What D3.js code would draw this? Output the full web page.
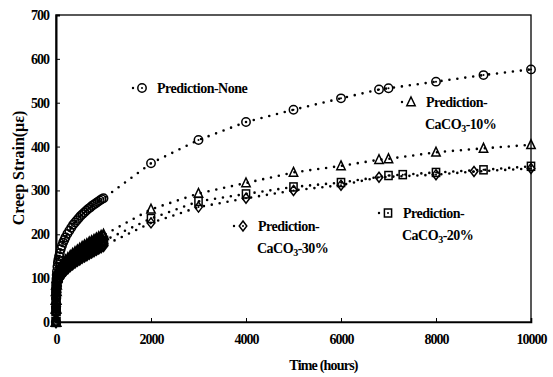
<!DOCTYPE html>
<html>
<head>
<meta charset="utf-8">
<script src="https://cdn.jsdelivr.net/npm/d3@7"></script>
<style>
  body { margin: 0; background: #fff; }
  text { font-family: "Liberation Serif", "Times New Roman", serif; font-weight: bold; fill: #000; }
</style>
</head>
<body>
<svg id="chart" width="553" height="377"></svg>
<script>
// ---- data ----
const xTicks = [0, 2000, 4000, 6000, 8000, 10000]
const yTicks = [0, 100, 200, 300, 400, 500, 600, 700]

// Prediction-None (dense early readings, then the long term ones)
const noneHours = [0, 0.5, 1, 2, 3, 5, 7, 10, 15, 20, 30, 40, 50, 65, 80, 100, 125, 150, 175, 200,
  240, 280, 320, 360, 400, 440, 480, 520, 560, 600, 640, 680, 720, 760, 800, 840, 880, 920, 960, 1000,
  2000, 3000, 4000, 5000, 6000, 6800, 7000, 8000, 9000, 10000]
const noneStrain = [0, 30, 55, 68, 75, 83, 90, 98, 107, 115, 126, 135, 142, 150, 157, 166, 174, 181, 187, 193,
  201, 208, 215, 222, 227, 232, 237, 242, 246, 250, 254, 258, 261, 265, 268, 271, 274, 277, 280, 282,
  362, 415, 456, 484, 510, 530, 533, 548, 563, 576]

// Prediction-CaCO3-10%
const p10Hours = [0, 1, 2, 5, 10, 20, 40, 70, 100, 150, 200, 250, 300, 350, 400, 450, 500, 550, 600, 650,
  700, 750, 800, 850, 900, 950, 1000, 2000, 3000, 4000, 5000, 6000, 6800, 7000, 8000, 9000, 10000]
const p10Strain = [0, 30, 50, 70, 85, 100, 112, 120, 126, 133, 139, 144, 149, 154, 158, 162, 166, 170, 173, 176,
  180, 183, 186, 189, 192, 195, 198, 257, 293, 317, 341, 356, 370, 372, 387, 396, 404]

// Prediction-CaCO3-20%
const p20Hours = [0, 1, 2, 5, 10, 20, 40, 70, 100, 150, 200, 250, 300, 350, 400, 450, 500, 550, 600, 650,
  700, 750, 800, 850, 900, 950, 1000, 2000, 3000, 4000, 5000, 6000, 7000, 7300, 8000, 9000, 10000]
const p20Strain = [0, 25, 42, 62, 76, 90, 101, 109, 115, 122, 128, 133, 138, 142, 146, 150, 154, 157, 161, 164,
  167, 170, 173, 176, 179, 182, 185, 236, 275, 292, 308, 318, 334, 336, 341, 347, 355]

// Prediction-CaCO3-30%
const p30Hours = [0, 1, 2, 5, 10, 20, 40, 70, 100, 150, 200, 250, 300, 350, 400, 450, 500, 550, 600, 650,
  700, 750, 800, 850, 900, 950, 1000, 2000, 3000, 4000, 5000, 6000, 6800, 8000, 8800, 10000]
const p30Strain = [0, 20, 35, 55, 68, 82, 93, 100, 105, 112, 118, 123, 128, 132, 136, 140, 143, 147, 150, 153,
  156, 159, 162, 165, 168, 171, 174, 226, 262, 282, 300, 312, 330, 336, 343, 350]

const series = [
  { name: 'None', marker: 'circle', hours: noneHours, strain: noneStrain },
  { name: '10', marker: 'triangle', hours: p10Hours, strain: p10Strain },
  { name: '20', marker: 'square', hours: p20Hours, strain: p20Strain },
  { name: '30', marker: 'diamond', hours: p30Hours, strain: p30Strain }
]

// ---- layout ----
const svg = d3.select('#chart')
const margin = { left: 56, right: 22, top: 15, bottom: 55 }
const width = 553 - margin.left - margin.right
const height = 377 - margin.top - margin.bottom

const xScale = d3.scaleLinear().domain([0, 10000]).range([0, width])
const yScale = d3.scaleLinear().domain([0, 700]).range([height, 0])

svg.append('rect').attr('width', 553).attr('height', 377).attr('fill', '#fff')

const g = svg.append('g').attr('transform', 'translate(' + margin.left + ',' + margin.top + ')')

// frame
g.append('rect')
  .attr('width', width).attr('height', height)
  .attr('fill', 'none').attr('stroke', '#000').attr('stroke-width', 1.3)

const xAxis = g.append('g')
  .attr('transform', 'translate(0,' + height + ')')
  .call(d3.axisBottom(xScale).tickValues(xTicks).tickSize(-4).tickPadding(12).tickFormat(d3.format('d')))
const yAxis = g.append('g')
  .call(d3.axisLeft(yScale).tickValues(yTicks).tickSize(-4).tickPadding(7))

xAxis.select('.domain').attr('stroke-width', 1.6)
yAxis.select('.domain').attr('stroke-width', 2)
xAxis.selectAll('text').style('font-size', '14px').style('letter-spacing', '-1px')
  .style('font-family', '"Liberation Serif", serif').style('font-weight', 'bold')
yAxis.selectAll('text').style('font-size', '14px').style('letter-spacing', '-1px')
  .style('font-family', '"Liberation Serif", serif').style('font-weight', 'bold')

// axis titles
svg.append('text')
  .attr('x', margin.left + width / 2 + 30).attr('y', 370)
  .attr('text-anchor', 'middle')
  .style('font-size', '14px').style('letter-spacing', '-0.8px')
  .text('Time (hours)')

svg.append('text')
  .attr('transform', 'translate(24,' + (margin.top + 153) + ') rotate(-90)')
  .attr('text-anchor', 'middle')
  .style('font-size', '16px')
  .text('Creep Strain(με)')

// ---- marks ----
function drawMarker (sel, type, x, y, sw) {
  if (type === 'circle') {
    sel.append('circle').attr('cx', x).attr('cy', y).attr('r', 4.2)
      .attr('fill', 'none').attr('stroke', '#000').attr('stroke-width', sw)
  } else if (type === 'triangle') {
    sel.append('path')
      .attr('d', 'M' + x + ',' + (y - 5) + 'L' + (x + 4.2) + ',' + (y + 3.8) + 'L' + (x - 4.2) + ',' + (y + 3.8) + 'Z')
      .attr('fill', 'none').attr('stroke', '#000').attr('stroke-width', sw)
  } else if (type === 'square') {
    sel.append('rect').attr('x', x - 3.6).attr('y', y - 4).attr('width', 7.2).attr('height', 8)
      .attr('fill', 'none').attr('stroke', '#000').attr('stroke-width', sw)
  } else {
    sel.append('path')
      .attr('d', 'M' + x + ',' + (y - 5) + 'L' + (x + 3.8) + ',' + y + 'L' + x + ',' + (y + 5) + 'L' + (x - 3.8) + ',' + y + 'Z')
      .attr('fill', 'none').attr('stroke', '#000').attr('stroke-width', sw)
  }
  if (type !== 'triangle') {
    sel.append('circle').attr('cx', x).attr('cy', y).attr('r', 1).attr('fill', '#000')
  }
}

const line = d3.line()
  .x(function (d) { return xScale(d[0]) })
  .y(function (d) { return yScale(d[1]) })

series.forEach(function (s) {
  const pts = s.hours.map(function (h, i) { return [h, s.strain[i]] })
  g.append('path')
    .attr('d', line(pts))
    .attr('fill', 'none').attr('stroke', '#000')
    .attr('stroke-width', 2.6).attr('stroke-linecap', 'round')
    .attr('stroke-dasharray', '0 8')
  const mg = g.append('g').attr('class', 'marks-' + s.name)
  // the early readings sit so close together that they merge into a dark band
  const early = s.name === 'None' ? 1.5 : 2.4
  pts.forEach(function (p) { drawMarker(mg, s.marker, xScale(p[0]), yScale(p[1]), p[0] <= 1000 ? early : 1.5) })
})

// ---- legend labels inside the plot ----
const legend = [
  { marker: 'circle', x: 142, y: 88, lines: ['Prediction-None'] },
  { marker: 'triangle', x: 411, y: 102, lines: ['Prediction-', 'CaCO|3|-10%'] },
  { marker: 'diamond', x: 243, y: 226, lines: ['Prediction-', 'CaCO|3|-30%'] },
  { marker: 'square', x: 388, y: 213, lines: ['Prediction-', 'CaCO|3|-20%'] }
]

legend.forEach(function (l) {
  const lg = svg.append('g')
  lg.append('line')
    .attr('x1', l.x - 9).attr('x2', l.x + 10).attr('y1', l.y).attr('y2', l.y)
    .attr('stroke', '#000').attr('stroke-width', 2.4).attr('stroke-linecap', 'round')
    .attr('stroke-dasharray', '0 9.5')
  lg.append('rect').attr('x', l.x - 5).attr('y', l.y - 6).attr('width', 10).attr('height', 12).attr('fill', '#fff')
  drawMarker(lg, l.marker, l.x, l.y, 1.5)
  l.lines.forEach(function (txt, i) {
    const t = lg.append('text')
      .attr('x', i === 0 ? l.x + 15 : l.x + 14)
      .attr('y', l.y + 5 + i * 22)
      .style('font-size', '14px').style('letter-spacing', '-0.5px')
    const parts = txt.split('|')
    t.append('tspan').text(parts[0])
    if (parts.length > 1) {
      t.append('tspan').attr('dy', 3).style('font-size', '10px').text(parts[1])
      t.append('tspan').attr('dy', -3).text(parts[2])
    }
  })
})
</script>
</body>
</html>
